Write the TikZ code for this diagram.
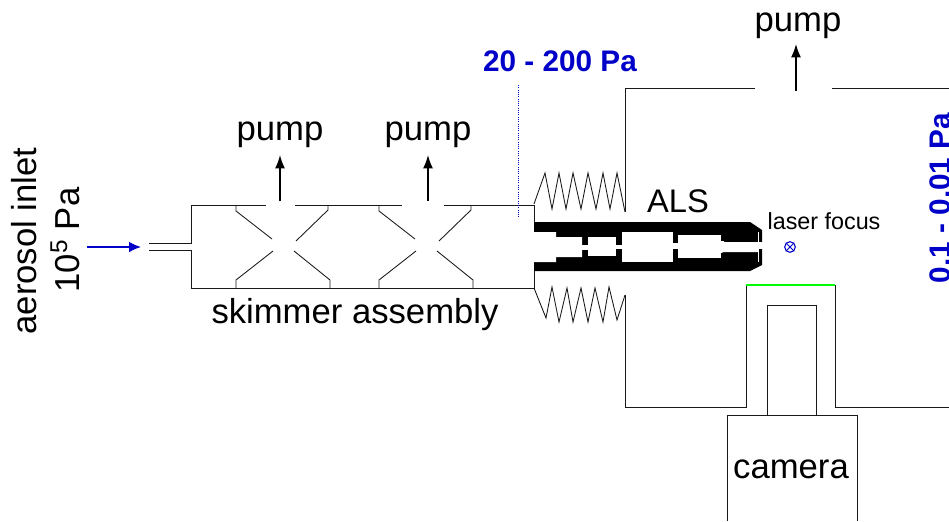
\documentclass[tikz,border=0pt]{standalone}
\usepackage{fontspec}
\setmainfont{Liberation Sans}
\usepackage{xcolor}
\usetikzlibrary{arrows.meta}
\usetikzlibrary{positioning}
\definecolor{paBlue}{RGB}{0,0,200}
\tikzset{
  wall/.style={line width=0.65pt, black!90},
  pumpArrow/.style={-{Latex[length=10pt, width=7.5pt]}, line width=1.2pt},
  bigText/.style={font=\fontsize{26}{30}\selectfont, inner sep=0pt},
  paText/.style={font=\fontsize{22.3}{26}\selectfont\bfseries, text=paBlue, inner sep=0pt}
}
\begin{document}
\begin{tikzpicture}[x=0.75pt, y=-0.75pt]
  \clip (0, 0) rectangle (949, 521);

  \coordinate (inletStart) at (87, 247);
  \coordinate (inletEnd) at (141, 247);
  \draw[-{Latex[length=9pt, width=8pt]}, paBlue, line width=1pt] (inletStart) -- (inletEnd);

  % skimmer chamber
  \draw[wall] (149, 243.5) -- (191, 243.5) -- (191, 205) -- (266, 205);
  \draw[wall] (295, 205) -- (402, 205);
  \draw[wall] (444, 205) -- (534, 205) -- (534, 222);
  \draw[wall] (149, 250) -- (191, 250) -- (191, 288) -- (534, 288) -- (534, 271);
  \foreach \dx in {0, 143} {
    \draw[wall] (236+\dx, 205) -- (236+\dx, 211) -- (272+\dx, 239);
    \draw[wall] (328+\dx, 205) -- (328+\dx, 210) -- (296+\dx, 241);
    \draw[wall] (236+\dx, 288) -- (236+\dx, 280) -- (273+\dx, 251);
    \draw[wall] (330+\dx, 288) -- (330+\dx, 280) -- (294+\dx, 251);
  }

  % bellows
  \draw[wall] (534, 204) -- (545, 173) -- (552, 209) -- (559, 173) -- (566, 209)
    -- (573, 173) -- (581, 209) -- (588, 173) -- (596, 209) -- (603, 173)
    -- (610, 209) -- (617, 173) -- (625, 212);
  \draw[wall] (534, 288) -- (546, 318) -- (552, 287) -- (559, 322) -- (567, 288)
    -- (573, 322) -- (581, 288) -- (588, 322) -- (595, 288) -- (603, 322)
    -- (609, 287) -- (617, 320) -- (625, 295);

  % main chamber
  \draw[wall] (625, 212) -- (625, 88) -- (755, 88);
  \draw[wall] (832, 88) -- (949, 88);
  \draw[wall] (625, 295) -- (625, 407) -- (746, 407) -- (746, 285);
  \draw[wall] (835, 285) -- (835, 407) -- (949, 407);
  \draw[green, line width=1.3pt] (746, 285) -- (835, 285);
  \draw[wall] (767, 415) -- (767, 305) -- (816, 305) -- (816, 415);
  \draw[wall] (727, 521) -- (727, 415) -- (857, 415) -- (857, 521);

  % ALS lens body
  \fill[black] (534, 222) -- (750, 222) -- (762, 230) -- (762, 265) -- (750, 271) -- (534, 271) -- cycle;
  \fill[white] (534, 232) -- (556, 232) -- (556, 237) -- (582, 237) -- (582, 257) -- (556, 257) -- (556, 262) -- (534, 262) -- cycle;
  \fill[white] (582, 245) rectangle (588, 250);
  \fill[white] (588, 237) rectangle (616, 256);
  \fill[white] (616, 245) rectangle (622, 249);
  \fill[white] (622, 232) rectangle (673, 262);
  \fill[white] (673, 243) rectangle (678, 249);
  \fill[white] (678, 235) rectangle (721, 258);
  \fill[white] (721, 241) -- (724, 241) -- (724, 242) -- (758, 242) -- (758, 252) -- (724, 252) -- (721, 253) -- cycle;
  \fill[white] (758, 232) rectangle (759.2, 262);
  \fill[white] (759, 242) rectangle (762.5, 249);

  % pressure marker
  \coordinate (dashTop) at (518, 85);
  \coordinate (dashEnd) at (518, 218);
  \draw[paBlue, densely dotted, line width=0.7pt] (dashTop) -- (dashEnd);

  % pumps
  \node[bigText] (pumpA) at (280, 135) {pump};
  \node[bigText] (pumpB) at (428, 135) {pump};
  \node[bigText] (pumpC) at (798, 26) {pump};
  \coordinate (ventA) at (280, 201);
  \coordinate (ventB) at (428, 201);
  \coordinate (ventC) at (796, 91);
  \draw[pumpArrow] (ventA) -- (280, 155);
  \draw[pumpArrow] (ventB) -- (428, 155);
  \draw[pumpArrow] (ventC) -- (796, 44);

  \node[bigText, rotate=90] (inletLabel) at (24, 241) {aerosol inlet};
  \node[bigText, rotate=90] (inletPressure) at (65, 240) {10\textsuperscript{5} Pa};
  \node[bigText] (skimmerLabel) at (355, 315) {skimmer assembly};
  \node[bigText, font=\fontsize{24.5}{28}\selectfont] (alsLabel) at (678, 201) {ALS};
  \node[bigText] (cameraLabel) at (791, 469) {camera};
  \node[font=\fontsize{17.5}{20}\selectfont, inner sep=0pt] (focusLabel) at (824, 221) {laser focus};
  \node[paText] (midPressure) at (560, 61) {20 - 200 Pa};
  \node[paText, rotate=90] (lowPressure) at (940, 198) {0.1 - 0.01 Pa};

  \node[circle, draw=paBlue, line width=0.8pt, inner sep=0pt, minimum size=8pt] (focus) at (790, 247) {};
  \draw[paBlue, line width=0.7pt] (focus.north west) -- (focus.south east);
  \draw[paBlue, line width=0.7pt] (focus.north east) -- (focus.south west);
\end{tikzpicture}
\end{document}
